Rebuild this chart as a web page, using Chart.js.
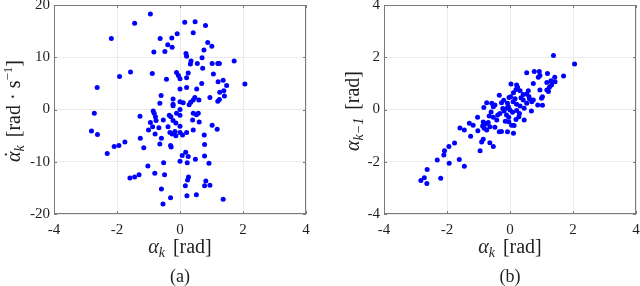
<!DOCTYPE html>
<html>
<head>
<meta charset="utf-8">
<script src="https://cdn.jsdelivr.net/npm/chart.js@4"></script>
<style>
  html, body { margin: 0; padding: 0; background: #fff; }
  .panel { position: absolute; top: 0; width: 320px; height: 286px; }
</style>
</head>
<body>
<div class="panel" style="left:0"><canvas id="plotA" width="320" height="286"></canvas></div>
<div class="panel" style="left:320px"><canvas id="plotB" width="320" height="286"></canvas></div>
<script>
// (a) alpha_k vs its rate
const aAlpha = [-0.94,-1.44,0.15,0.48,0.81,0.42,-2.18,-0.09,-0.63,-0.26,-0.39,-0.25,-0.48,-0.83,0.88,1.01,0.76,0.19,0.21,0.35,
  0.33,0.70,0.55,1.02,1.20,1.25,1.72,0.72,1.06,-1.57,-0.88,-1.92,-0.11,0.26,0.21,-0.05,0.00,-0.43,1.21,1.37,
  0.69,2.06,1.48,-2.63,0.21,0.00,0.53,1.39,1.26,-0.60,1.41,0.95,0.47,-0.22,0.42,0.60,1.25,1.20,0.00,0.10,
  0.34,-0.64,-0.22,-0.22,0.29,0.00,-2.72,-0.85,-0.82,-0.11,0.42,0.52,-1.27,-0.78,-0.34,-0.29,0.00,0.58,-0.53,-0.76,
  0.40,-0.22,0.61,-0.13,-0.94,1.02,-0.38,-0.67,0.00,-0.87,-2.81,-1.00,0.42,1.18,-0.32,-0.25,-0.16,0.00,0.21,-2.62,
  -0.79,0.08,-0.13,0.77,-0.59,-1.26,-1.75,-0.64,-2.09,-1.94,-0.30,-0.28,-1.15,0.78,-2.31,0.18,0.07,0.26,0.78,0.49,
  0.00,0.23,0.92,-0.52,-1.02,-0.80,-0.49,-1.30,-1.44,-1.59,0.27,0.24,0.82,0.17,0.78,0.95,-0.59,0.52,0.22,-0.30,
  1.37,-0.54];
const aRate = [18.3,16.5,16.7,16.8,16.1,14.7,13.6,14.5,13.6,13.7,12.4,11.9,11.1,11.0,12.8,12.1,11.4,10.7,10.2,9.3,
  8.7,9.9,8.8,8.8,8.8,8.8,9.3,7.9,6.8,7.2,6.9,6.3,7.1,7.0,6.1,6.5,5.9,5.8,5.3,5.6,
  5.0,4.9,4.6,4.2,4.2,3.9,3.9,3.6,3.3,2.7,2.6,2.3,2.3,2.0,1.8,1.8,1.9,1.6,1.5,1.3,
  1.4,1.2,1.0,0.7,0.9,0.0,-0.7,-0.3,-0.7,-0.7,-0.7,-1.0,-1.3,-1.4,-1.1,-1.4,-1.1,-0.7,-2.0,-2.1,
  -2.0,-2.1,-2.4,-2.6,-2.5,-3.0,-3.3,-3.5,-3.2,-3.3,-4.1,-3.9,-3.9,-3.8,-4.4,-4.7,-4.2,-4.4,-4.4,-4.8,
  -4.7,-4.9,-5.0,-4.9,-5.5,-5.5,-6.2,-6.6,-7.1,-6.9,-6.9,-7.2,-7.3,-6.7,-8.4,-8.2,-8.8,-9.0,-8.9,-9.5,
  -9.9,-10.2,-10.3,-10.2,-10.8,-12.2,-12.5,-12.5,-12.9,-13.1,-12.9,-13.5,-13.7,-14.6,-14.6,-14.5,-15.2,-16.3,-16.5,-16.9,
  -17.2,-18.1];

// (b) alpha_k vs alpha_{k-1}
const bAlpha = [1.38,2.05,1.70,1.42,1.43,1.30,1.17,0.77,0.93,0.53,1.19,0.90,0.95,0.74,1.25,1.17,1.22,0.95,0.03,0.21,
  0.24,0.58,0.53,1.03,1.00,0.32,0.42,0.11,0.02,-0.03,-0.34,0.16,0.62,0.74,0.42,0.69,0.88,1.03,-0.74,-0.58,
  -0.53,-0.27,-0.83,-0.08,-0.05,0.21,0.32,0.53,0.68,-0.23,-0.19,-0.32,-0.39,0.00,0.08,0.21,0.30,-0.11,-0.04,-0.66,
  -0.53,-1.03,0.19,0.45,-0.04,-0.42,-1.29,-1.17,-0.85,-0.77,-0.69,-0.87,-0.82,0.13,-0.48,-0.64,-1.59,-1.45,-1.02,-0.74,
  -0.34,-0.27,-0.08,0.11,-1.25,-0.85,-0.90,-0.64,-1.76,-0.53,-1.94,-0.95,-2.08,-2.10,-1.61,-2.31,-1.93,-1.45,-2.63,-2.20,
  -2.83,-2.72,-2.64,0.10,0.35,-0.15,0.05,-0.20,0.45,-0.60,0.28,0.60,-0.10,-0.48,1.32,0.19];
const bPrev = [2.07,1.74,1.28,1.23,1.06,1.10,1.03,1.45,1.45,1.41,1.38,1.23,1.30,1.00,0.85,0.75,0.69,0.75,0.98,0.94,
  0.85,0.72,0.59,0.49,0.43,0.72,0.57,0.64,0.49,0.46,0.55,0.41,0.40,0.36,0.36,0.30,0.17,0.16,0.26,0.24,
  0.11,0.26,0.08,0.24,0.11,0.20,0.13,0.24,-0.06,0.04,-0.06,-0.15,-0.21,-0.02,-0.11,-0.04,-0.15,-0.21,-0.30,-0.25,
  -0.30,-0.30,-0.38,-0.40,-0.47,-0.40,-0.53,-0.60,-0.48,-0.55,-0.50,-0.63,-0.72,-0.61,-0.68,-0.66,-0.71,-0.78,-0.81,-0.78,
  -0.85,-0.84,-0.85,-0.91,-1.02,-1.14,-1.24,-1.27,-1.28,-1.42,-1.42,-1.58,-1.58,-1.74,-1.91,-1.93,-2.06,-2.17,-2.30,-2.63,
  -2.72,-2.61,-2.83,0.30,0.45,-0.45,-0.60,0.35,0.05,-0.10,-0.28,0.50,0.05,0.17,0.94,0.77];

const xTicks = [-4, -2, 0, 2, 4];
const aTicks = [-20, -10, 0, 10, 20];
const bTicks = [-4, -2, 0, 2, 4];

const SERIF = '"Liberation Serif", "DejaVu Serif", serif';
const TEXT = '#1f1f1f';

function toPoints(xs, ys) {
  return xs.map((x, i) => ({x: x, y: ys[i]}));
}

// draws a label made of pieces (italic symbol, subscript, plain text) centred on (x,y)
function drawPieces(ctx, pieces, x, y, rotated) {
  ctx.save();
  ctx.translate(x, y);
  if (rotated) ctx.rotate(-Math.PI / 2);
  ctx.fillStyle = TEXT;
  ctx.textBaseline = 'alphabetic';
  ctx.textAlign = 'left';
  let w = 0;
  pieces.forEach(p => { ctx.font = p.f; p.w = ctx.measureText(p.t).width; w += p.w + (p.gap || 0); });
  let cx = -w / 2;
  pieces.forEach(p => {
    ctx.font = p.f;
    ctx.fillText(p.t, cx, p.dy || 0);
    if (p.dot) {
      ctx.textAlign = 'center';
      ctx.fillText('\u02D9', cx + p.w / 2 + 1, -1);
      ctx.textAlign = 'left';
    }
    cx += p.w + (p.gap || 0);
  });
  ctx.restore();
}

const I20 = 'italic 20px ' + SERIF, I14 = 'italic 14px ' + SERIF, R20 = '20px ' + SERIF, R13 = '13px ' + SERIF, R18 = '18px ' + SERIF;

function boxPlugin(xLabel, yLabel, yLabelX, tag) {
  return {
    id: 'box',
    afterDraw(chart) {
      const ctx = chart.ctx, a = chart.chartArea;
      const sx = chart.scales.x, sy = chart.scales.y;
      ctx.save();
      ctx.strokeStyle = '#7a7a7a';
      ctx.lineWidth = 1;
      ctx.strokeRect(a.left + 0.5, a.top + 0.5, a.right - a.left - 1, a.bottom - a.top - 1);
      ctx.beginPath();
      sx.ticks.forEach(t => {
        const px = Math.round(sx.getPixelForValue(t.value)) + 0.5;
        ctx.moveTo(px, a.bottom); ctx.lineTo(px, a.bottom - 3);
        ctx.moveTo(px, a.top); ctx.lineTo(px, a.top + 3);
      });
      sy.ticks.forEach(t => {
        const py = Math.round(sy.getPixelForValue(t.value)) + 0.5;
        ctx.moveTo(a.left, py); ctx.lineTo(a.left + 3, py);
        ctx.moveTo(a.right, py); ctx.lineTo(a.right - 3, py);
      });
      ctx.stroke();
      ctx.restore();
      const cxm = (a.left + a.right) / 2;
      drawPieces(ctx, xLabel, cxm, 253, false);
      drawPieces(ctx, [{t: tag, f: R18}], cxm, 282, false);
      drawPieces(ctx, yLabel, yLabelX, 111, true);
    }
  };
}

function makeChart(id, xs, ys, yTicks, axisW, padRight, xLabel, yLabel, yLabelX, tag) {
  return new Chart(document.getElementById(id), {
    type: 'scatter',
    data: {
      datasets: [{
        data: toPoints(xs, ys),
        backgroundColor: '#0000ff',
        borderWidth: 0,
        pointRadius: 2.5,
        pointHoverRadius: 2.5
      }]
    },
    options: {
      responsive: false,
      animation: false,
      events: [],
      layout: {padding: {left: 0, right: padRight, top: 5, bottom: 0}},
      plugins: {legend: {display: false}, tooltip: {enabled: false}},
      scales: {
        x: {
          type: 'linear',
          min: xTicks[0], max: xTicks[xTicks.length - 1],
          afterBuildTicks: s => { s.ticks = xTicks.map(v => ({value: v})); },
          ticks: {color: TEXT, font: {family: SERIF, size: 15}, padding: 7, maxRotation: 0},
          grid: {color: '#ebebeb', drawTicks: false},
          border: {display: false},
          afterFit: s => { s.height = 72; s.paddingLeft = 0; s.paddingRight = 0; }
        },
        y: {
          type: 'linear',
          min: yTicks[0], max: yTicks[yTicks.length - 1],
          afterBuildTicks: s => { s.ticks = yTicks.map(v => ({value: v})); },
          ticks: {color: TEXT, font: {family: SERIF, size: 15}, padding: 4},
          grid: {color: '#ebebeb', drawTicks: false},
          border: {display: false},
          afterFit: s => { s.width = axisW; s.paddingTop = 0; s.paddingBottom = 0; }
        }
      }
    },
    plugins: [boxPlugin(xLabel, yLabel, yLabelX, tag)]
  });
}

const alphaLabel = [{t: '\u03B1', f: I20}, {t: 'k', f: I14, dy: 4, gap: 8}, {t: '[rad]', f: R20}];

makeChart('plotA', aAlpha, aRate, aTicks, 54, 14, alphaLabel,
  [{t: '\u03B1', f: I20, dot: true}, {t: 'k', f: I14, dy: 4, gap: 8}, {t: '[rad \u00B7 s', f: R20}, {t: '\u22121', f: R13, dy: -8}, {t: ']', f: R20}],
  20, '(a)');

makeChart('plotB', bAlpha, bPrev, bTicks, 64, 4, alphaLabel,
  [{t: '\u03B1', f: I20}, {t: 'k\u22121', f: I14, dy: 4, gap: 8}, {t: '[rad]', f: R20}],
  39, '(b)');
</script>
</body>
</html>
